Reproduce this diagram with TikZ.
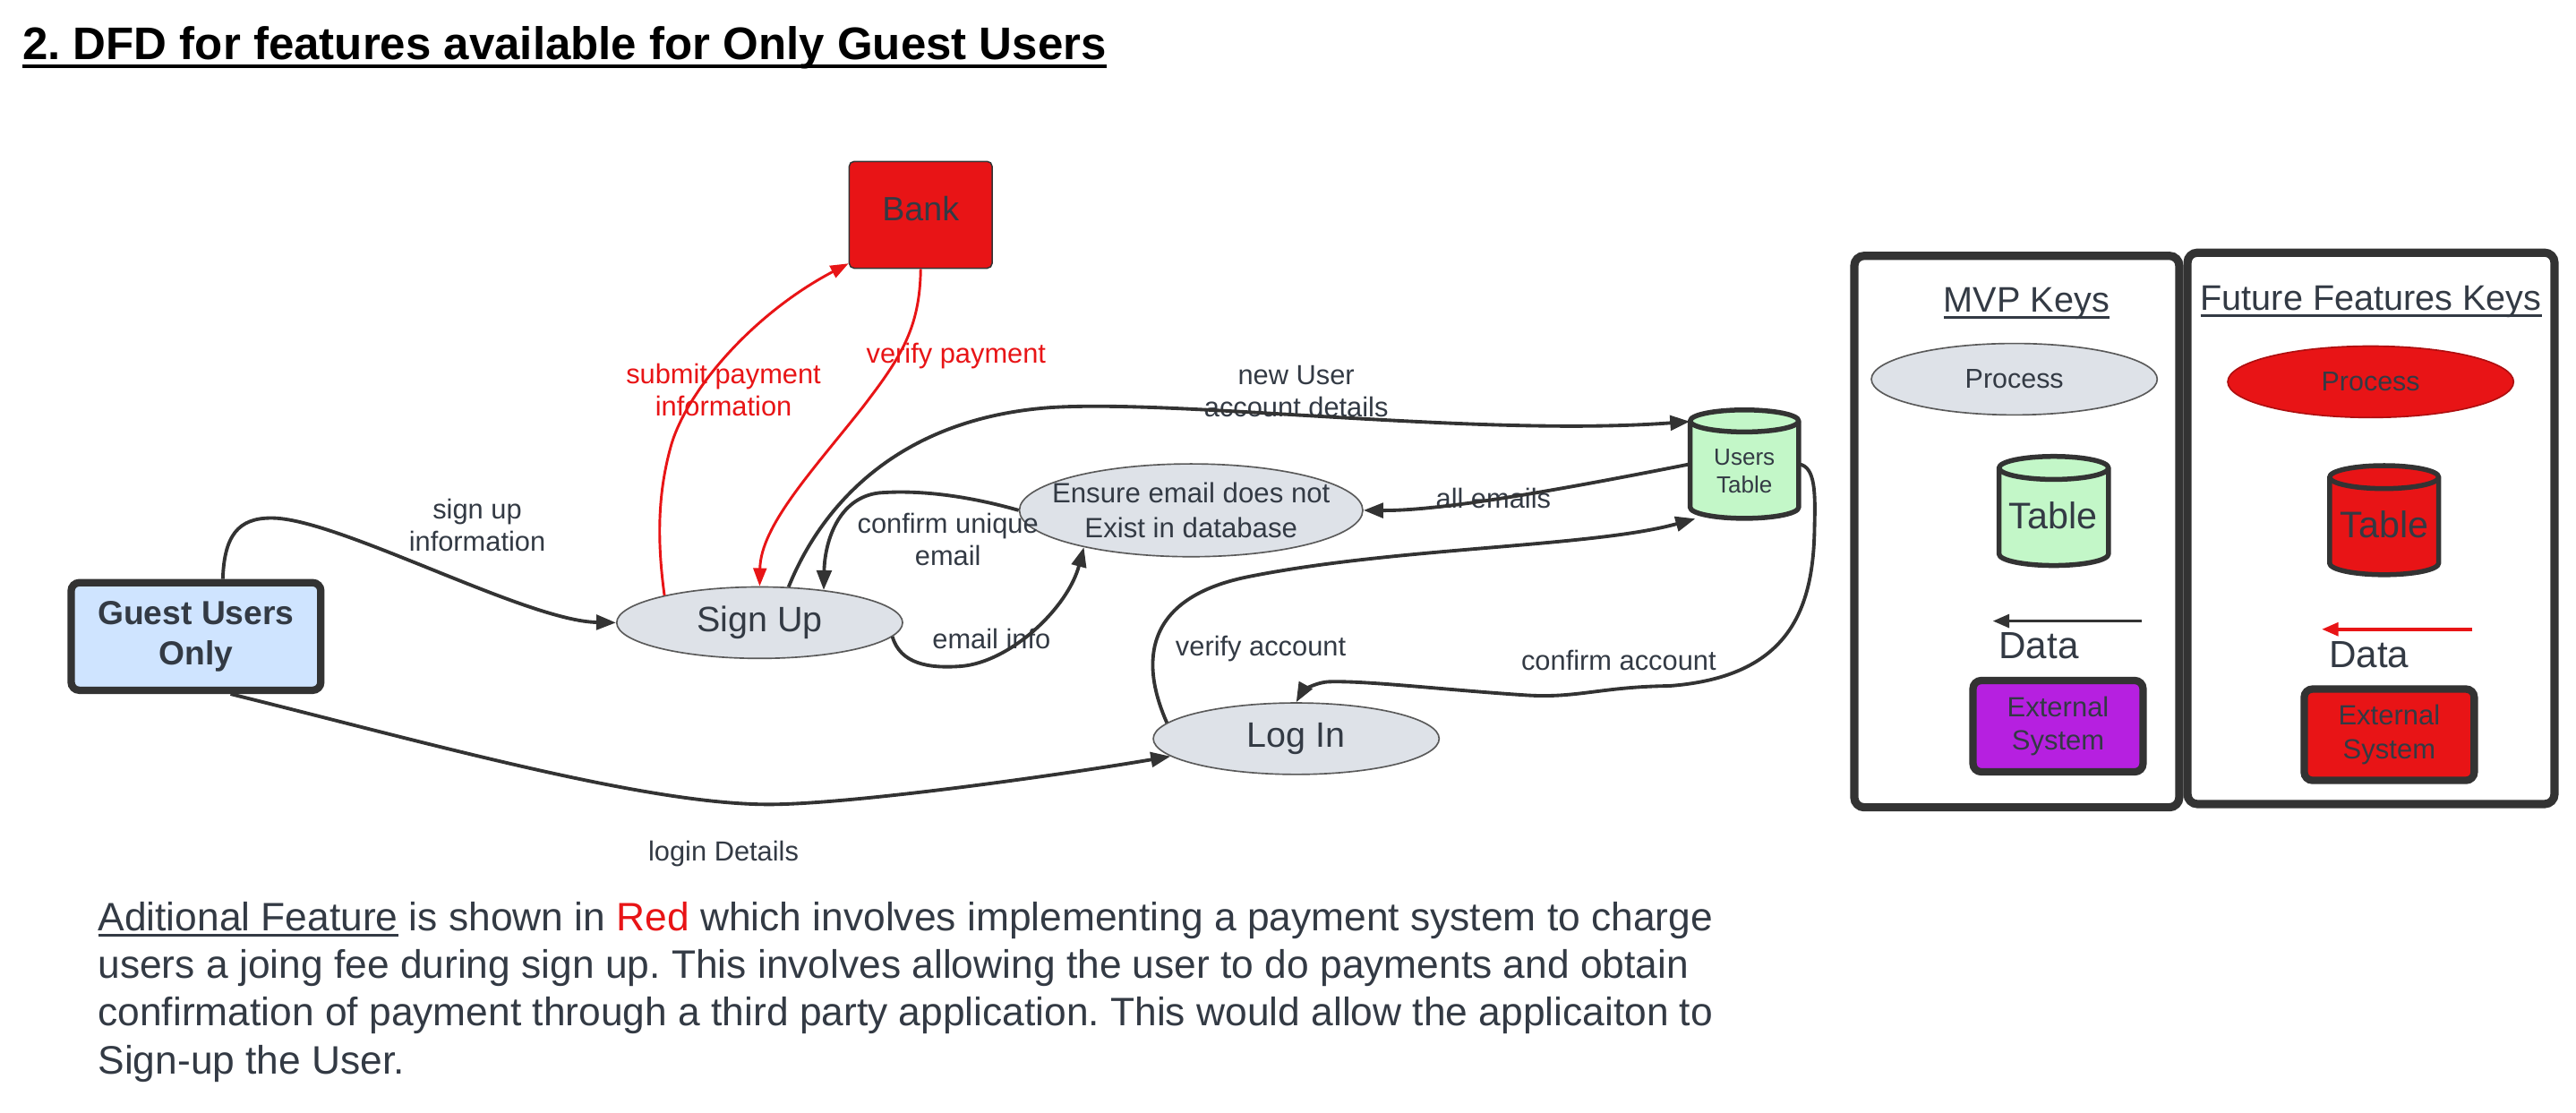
\documentclass[tikz,border=0pt]{standalone}
\usepackage{fontspec}
\setmainfont{Liberation Sans}
\usetikzlibrary{arrows.meta,shapes.geometric}
\definecolor{txt}{HTML}{333A44}
\definecolor{edge}{HTML}{333333}
\definecolor{lucred}{HTML}{E81416}
\definecolor{procfill}{HTML}{DEE2E8}
\definecolor{procline}{HTML}{5A5A5A}
\definecolor{guestfill}{HTML}{CFE4FF}
\definecolor{tablefill}{HTML}{C3F7C8}
\definecolor{purp}{HTML}{B620E0}
\frenchspacing
\newsavebox\ulbox
\newcommand\ulx[3]{\sbox\ulbox{#3}\leavevmode\rlap{\rule[#1]{\wd\ulbox}{#2}}\usebox\ulbox}
\newcommand\drawcyl[6]{%
 \filldraw[fill=#6, draw=edge, line width=3pt, line join=round]
 ({#1-#3},{#2-#4+#5}) -- ({#1-#3},{#2+#4-#5})
 arc[start angle=180, end angle=360, x radius=#3pt, y radius=#5pt]
 -- ({#1+#3},{#2-#4+#5})
 arc[start angle=0, end angle=180, x radius=#3pt, y radius=#5pt] -- cycle;
 \draw[draw=edge, line width=3pt] ({#1-#3},{#2-#4+#5}) arc[start angle=180, end angle=360, x radius=#3pt, y radius=#5pt];
}
\begin{document}
\begin{tikzpicture}[x=1pt,y=-1pt,
 proc/.style={ellipse, draw=procline, line width=0.9pt, fill=procfill, minimum width=174pt, minimum height=43.5pt, inner sep=0pt, text=txt},
 flow/.style={draw=edge, line width=2.1pt, -{Triangle[length=12pt,width=9pt]}},
 redflow/.style={draw=lucred, line width=1.6pt, -{Triangle[length=11pt,width=8pt]}},
 lbl/.style={text=txt, align=center, font=\fontsize{16.8}{19.6}\selectfont, inner sep=0pt},
 redlbl/.style={lbl, text=lucred},
 keybox/.style={draw=edge, line width=5pt, rounded corners=6pt},
 extbox/.style={rectangle, draw=edge, line width=4.5pt, rounded corners=5pt, minimum width=103.5pt, minimum height=55.6pt, inner sep=0pt, align=center, text=txt, font=\fontsize{16.9}{20.4}\selectfont},
 anchorbox/.style={rectangle, minimum width=66pt, minimum height=66pt, inner sep=0pt},
 plain/.style={inner sep=0pt, text=txt, align=center},
 para/.style={anchor=base west, inner sep=0pt, text=txt, font=\fontsize{24.16}{29}\selectfont}
]
\useasboundingbox (0,0) rectangle (1568,677.4);
\fill[white] (0,0) rectangle (1568,677.4);

% title
\node[anchor=base west, inner sep=0pt, text=black, font=\fontsize{27.8}{32}\selectfont\bfseries] (title) at (13.6,36) {\ulx{-5.6pt}{2.6pt}{2. DFD for features available for Only Guest Users}};

% main nodes
\node[rectangle, rounded corners=5pt, draw=edge, line width=4.5pt, fill=guestfill, minimum width=152pt, minimum height=65.5pt, inner sep=0pt, align=center, text=txt, font=\fontsize{20.3}{25}\selectfont\bfseries] (guest) at (119.3,387.4) {Guest Users\\Only};

\node[rectangle, rounded corners=3pt, draw=edge, line width=0.8pt, fill=lucred, minimum width=87pt, minimum height=65pt, inner sep=0pt] (bank) at (560.4,130.75) {};
\node[plain, font=\fontsize{20.5}{24}\selectfont] (banktxt) at (560.4,127.2) {Bank};

\node[proc, font=\fontsize{21.5}{25}\selectfont] (signup) at (462.4,379) {Sign Up};
\node[proc, minimum width=209pt, minimum height=56.5pt, align=center, font=\fontsize{17}{20.8}\selectfont] (ensure) at (725,310.6) {\makebox[0pt]{Ensure email does not}\\\makebox[0pt]{Exist in database}};
\node[proc, font=\fontsize{21.5}{25}\selectfont] (login) at (789,449.6) {Log In};

\drawcyl{1061.8}{282.5}{33}{33}{6.7}{tablefill}
\node[anchorbox] (users) at (1061.8,282.5) {};
\node[plain, font=\fontsize{14.2}{17}\selectfont] (userstxt) at (1061.8,286.8) {Users\\Table};

% labels
\node[lbl] (l1) at (290.5,319.4) {sign up\\information};
\node[redlbl] (l2) at (440.4,237.6) {submit payment\\information};
\node[redlbl] (l3) at (582,216.8) {verify payment};
\node[lbl] (l4) at (789,238) {new User\\account details};
\node[lbl] (l5) at (577,328.4) {confirm unique\\email};
\node[lbl] (l6) at (909,303.1) {all emails};
\node[lbl] (l7) at (603.5,388.8) {email info};
\node[lbl] (l8) at (767.4,395) {verify account};
\node[lbl] (l9) at (985.3,401.7) {confirm account};
\node[lbl] (l10) at (440.4,519.6) {login Details};

% connectors
\draw[flow] (guest.65.6) .. controls (136.5,326) and (145,315.3) .. (165,315.3)
  .. controls (205,315) and (320,378) .. (signup.west);
\draw[flow] (guest.-59.8) .. controls (260,452) and (400,492) .. (475,489.5)
  .. controls (530,488) and (650,471) .. (login.188);
\draw[redflow] (signup.164) .. controls (400,330) and (400,300) .. (409,269.4)
  .. controls (420,235) and (460,190) .. (bank.214);
\draw[redflow] (bank.south) .. controls (560,200) and (548,218) .. (525,248)
  .. controls (495,286) and (463,320) .. (signup.north);
\draw[flow] (signup.51) .. controls (497,315) and (540,255) .. (640,248)
  .. controls (720,243) and (900,266) .. (users.142);
\draw[flow] (ensure.west) .. controls (590,302) and (560,298) .. (535,300)
  .. controls (510,303) and (502,330) .. (signup.27);
\draw[flow] (signup.-6) .. controls (548,404) and (565,407) .. (585,405.5)
  .. controls (615,403) and (650,370) .. (ensure.199);
\draw[flow] (users.west) .. controls (960,296) and (880,311) .. (ensure.east);
\draw[flow] (login.173) .. controls (697,410) and (690,365) .. (760,351)
  .. controls (850,333) and (970,333) .. (users.228);
\draw[flow] (users.east) .. controls (1105,284) and (1105,300) .. (1104.5,320)
  .. controls (1104,370) and (1090,412) .. (1016,417.5)
  .. controls (975,418) and (960,425) .. (930,423.2)
  .. controls (880,420) and (830,414) .. (808,415)
  .. controls (798,416) and (792,422) .. (login.north);

% keys
\node[keybox, minimum width=197.8pt, minimum height=335.7pt] (mvpbox) at (1227.6,323.55) {};
\node[keybox, minimum width=223.4pt, minimum height=335.6pt] (futbox) at (1443.2,321.6) {};
\node[plain, font=\fontsize{21.6}{25}\selectfont] (mvptitle) at (1233.6,184.9) {\ulx{-4pt}{1.6pt}{MVP Keys}};
\node[plain, font=\fontsize{21.6}{25}\selectfont] (futtitle) at (1443.2,183.7) {\ulx{-4pt}{1.6pt}{Future Features Keys}};

\node[proc, font=\fontsize{16.6}{20}\selectfont] (mvpproc) at (1226.1,230.8) {Process};
\node[proc, fill=lucred, draw=lucred!75!black, font=\fontsize{16.6}{20}\selectfont] (futproc) at (1443,232.4) {Process};

\drawcyl{1250.1}{311}{33.3}{33.2}{7}{tablefill}
\node[anchorbox] (mvptable) at (1250.1,311) {};
\node[plain, font=\fontsize{22.5}{26}\selectfont] (mvptabletxt) at (1249.7,313.8) {Table};
\drawcyl{1451.2}{316.6}{33.2}{33.2}{7}{lucred}
\node[anchorbox] (futtable) at (1451.2,316.6) {};
\node[plain, font=\fontsize{22.5}{26}\selectfont] (futtabletxt) at (1451.4,319) {Table};

\coordinate (mvpa) at (1303.8,378);
\coordinate (mvpb) at (1213,378);
\draw[draw=edge, line width=2pt, -{Triangle[length=10pt,width=8pt]}] (mvpa) -- (mvpb);
\node[plain, font=\fontsize{23}{27}\selectfont] (mvpdata) at (1241,393) {Data};
\coordinate (futa) at (1505,383);
\coordinate (futb) at (1413.3,383);
\draw[draw=lucred, line width=2pt, -{Triangle[length=10pt,width=8pt]}] (futa) -- (futb);
\node[plain, font=\fontsize{23}{27}\selectfont] (futdata) at (1442,398.5) {Data};

\node[extbox, fill=purp] (mvpext) at (1252.7,442) {External\\System};
\node[extbox, fill=lucred] (futext) at (1454.3,447.2) {External\\System};

% paragraph
\node[para] (p1) at (59.5,566.5) {\ulx{-3.8pt}{1.8pt}{Aditional Feature} is shown in \textcolor{lucred}{Red} which involves implementing a payment system to charge};
\node[para] (p2) at (59.5,595.5) {users a joing fee during sign up. This involves allowing the user to do payments and obtain};
\node[para] (p3) at (59.5,624.5) {confirmation of payment through a third party application. This would allow the applicaiton to};
\node[para] (p4) at (59.5,653.5) {Sign-up the User.};
\end{tikzpicture}
\end{document}
